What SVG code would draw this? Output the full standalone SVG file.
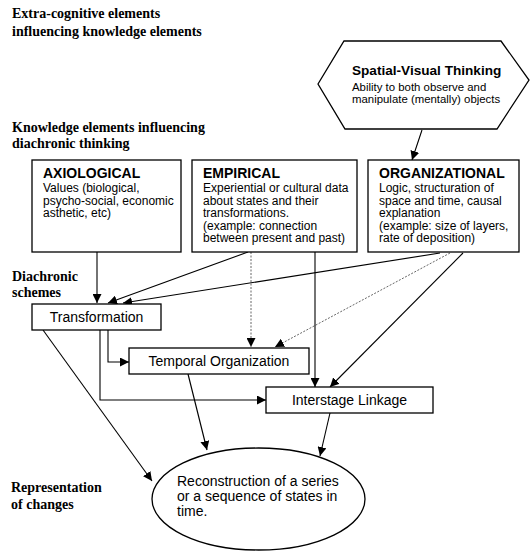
<svg xmlns="http://www.w3.org/2000/svg" width="531" height="552" viewBox="0 0 531 552">
<defs>
<marker id="ah" viewBox="0 0 10 10" refX="10" refY="5" markerWidth="9" markerHeight="9" markerUnits="userSpaceOnUse" orient="auto">
<path d="M0,0 L10,5 L0,10 z" fill="#000"/>
</marker>
<style>
.lbl{font-family:"Liberation Serif","Times New Roman",serif;font-weight:bold;font-size:14px;fill:#000}
.hd{font-family:"Liberation Sans",Arial,sans-serif;font-weight:bold;font-size:14px;fill:#000}
.bd{font-family:"Liberation Sans",Arial,sans-serif;font-size:12px;fill:#000}
.sm{font-family:"Liberation Sans",Arial,sans-serif;font-size:11.4px;fill:#000}
.nm{font-family:"Liberation Sans",Arial,sans-serif;font-size:14px;fill:#000}
.box{fill:#fff;stroke:#000;stroke-width:1.3}
.c{fill:none;stroke:#000;stroke-width:1.1;marker-end:url(#ah)}
.d{fill:none;stroke:#555;stroke-width:0.9;stroke-dasharray:2 1.5;marker-end:url(#ah)}
</style>
</defs>
<rect width="531" height="552" fill="#fff"/>
<g id="labels">
<text class="lbl" x="12" y="18">Extra-cognitive elements</text>
<text class="lbl" x="12" y="36">influencing knowledge elements</text>
<text class="lbl" x="12" y="132">Knowledge elements influencing</text>
<text class="lbl" x="12" y="148">diachronic thinking</text>
<text class="lbl" x="12" y="281">Diachronic</text>
<text class="lbl" x="12" y="297">schemes</text>
<text class="lbl" x="11" y="492">Representation</text>
<text class="lbl" x="11" y="509">of changes</text>
</g>
<g id="connectors">
<path class="c" d="M422,130 L412,160"/>
<path class="c" d="M97,252 L97,303"/>
<path class="c" d="M248,252 L108,303"/>
<path class="c" d="M440,253 L123,303"/>
<path class="d" d="M251,252 L251,347"/>
<path class="d" d="M450,253 L275,347"/>
<path class="c" d="M315,252 L315,387"/>
<path class="c" d="M463,253 L330,387"/>
<path class="c" d="M108,330 L108,362 L129,362"/>
<path class="c" d="M100,330 L100,400 L266,400"/>
<path class="c" d="M43,330 L152,481"/>
<path class="c" d="M188,374 L207,450"/>
<path class="c" d="M330,413 L320,456"/>
</g>
<g id="spatial">
<polygon class="box" points="318,84 344,41 501,41 529,80 497,129 345,129"/>
<text class="hd" x="352" y="75" style="font-size:13.6px">Spatial-Visual Thinking</text>
<text class="sm" x="352" y="91">Ability to both observe and</text>
<text class="sm" x="352" y="103">manipulate (mentally) objects</text>
</g>
<g id="axiological">
<rect class="box" x="32" y="160" width="149" height="92"/>
<text class="hd" x="43" y="178">AXIOLOGICAL</text>
<text class="bd" x="43" y="192">Values (biological,</text>
<text class="bd" x="43" y="204.5">psycho-social, economic</text>
<text class="bd" x="43" y="217">asthetic, etc)</text>
</g>
<g id="empirical">
<rect class="box" x="192" y="160" width="165" height="92"/>
<text class="hd" x="203" y="178">EMPIRICAL</text>
<text class="bd" x="203" y="192">Experiential or cultural data</text>
<text class="bd" x="203" y="204.5">about states and their</text>
<text class="bd" x="203" y="217">transformations.</text>
<text class="bd" x="203" y="229.5">(example: connection</text>
<text class="bd" x="203" y="242">between present and past)</text>
</g>
<g id="organizational">
<rect class="box" x="368" y="160" width="151" height="92"/>
<text class="hd" x="379" y="178">ORGANIZATIONAL</text>
<text class="bd" x="379" y="192">Logic, structuration of</text>
<text class="bd" x="379" y="204.5">space and time, causal</text>
<text class="bd" x="379" y="217">explanation</text>
<text class="bd" x="379" y="229.5">(example: size of layers,</text>
<text class="bd" x="379" y="242">rate of deposition)</text>
</g>
<g id="transformation">
<rect class="box" x="32" y="304" width="129" height="26"/>
<text class="nm" x="96.5" y="322" text-anchor="middle">Transformation</text>
</g>
<g id="temporal">
<rect class="box" x="129" y="348" width="180" height="26"/>
<text class="nm" x="219" y="366" text-anchor="middle">Temporal Organization</text>
</g>
<g id="interstage">
<rect class="box" x="266" y="387" width="167" height="26"/>
<text class="nm" x="349.5" y="405" text-anchor="middle">Interstage Linkage</text>
</g>
<g id="reconstruction">
<ellipse class="box" cx="258.5" cy="499" rx="106.5" ry="51"/>
<text class="nm" x="177" y="486">Reconstruction of a series</text>
<text class="nm" x="177" y="501">or a sequence of states in</text>
<text class="nm" x="177" y="516">time.</text>
</g>
</svg>
